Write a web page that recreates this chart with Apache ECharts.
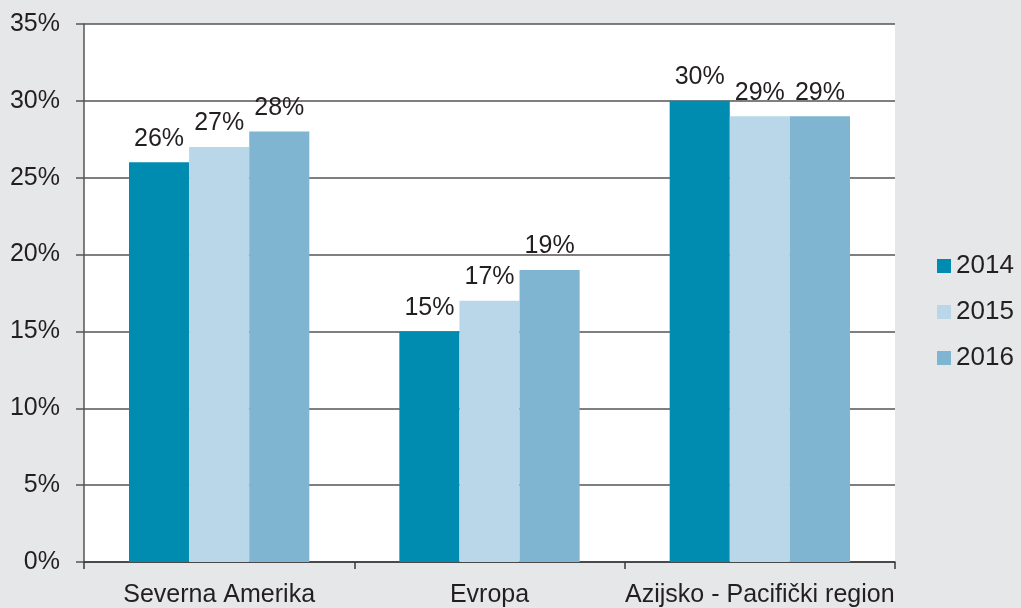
<!DOCTYPE html>
<html><head><meta charset="utf-8">
<script src="https://cdn.jsdelivr.net/npm/echarts@6/dist/echarts.min.js"></script>
<style>html,body{margin:0;padding:0;background:#e6e7e9;}#c{width:1021px;height:608px;}</style>
</head><body><div id="c"></div>
<script>
const categories = ['Severna Amerika', 'Evropa', 'Azijsko - Pacifički region'];
const years = ['2014', '2015', '2016'];
const v2014 = [26, 15, 30];
const v2015 = [27, 17, 29];
const v2016 = [28, 19, 29];
const colors = ['#008bb0', '#b9d7e8', '#7fb5d1'];
const values = [v2014, v2015, v2016];
const font = 'Liberation Sans, Arial, sans-serif';
const txt = '#231f20';
const chart = echarts.init(document.getElementById('c'));
chart.setOption({
  backgroundColor: '#e6e7e9',
  animation: false,
  grid: {left: 84, right: 126, top: 24, bottom: 45, show: true, backgroundColor: '#ffffff', borderWidth: 0},
  legend: {
    orient: 'vertical', left: 932, top: 248, itemWidth: 14, itemHeight: 14, itemGap: 20,
    icon: 'rect', data: years,
    textStyle: {fontFamily: font, fontSize: 26, color: txt, padding: [0, 0, 0, 0]}
  },
  xAxis: {
    type: 'category', data: categories,
    axisLine: {lineStyle: {color: '#3a3a3a', width: 1.5}},
    axisTick: {show: true, length: 7, lineStyle: {color: '#3a3a3a', width: 1.5}},
    axisLabel: {interval: 0, fontFamily: font, fontSize: 25, color: txt, margin: 21}
  },
  yAxis: {
    type: 'value', min: 0, max: 35, interval: 5,
    axisLine: {show: true, lineStyle: {color: '#555', width: 1.5}},
    axisTick: {show: true, length: 8, lineStyle: {color: '#555', width: 1.5}},
    splitLine: {lineStyle: {color: '#555', width: 1.5}},
    axisLabel: {fontFamily: font, fontSize: 25, color: txt, margin: 24, padding: [3, 0, 0, 0], formatter: '{value}%'}
  },
  series: years.map((y, i) => ({
    name: y, type: 'bar', data: values[i], barGap: '0%', barCategoryGap: '33.3%',
    itemStyle: {color: colors[i]},
    label: {show: true, position: 'top', distance: 11, formatter: '{c}%', fontFamily: font, fontSize: 25, color: txt}
  }))
});
</script></body></html>
